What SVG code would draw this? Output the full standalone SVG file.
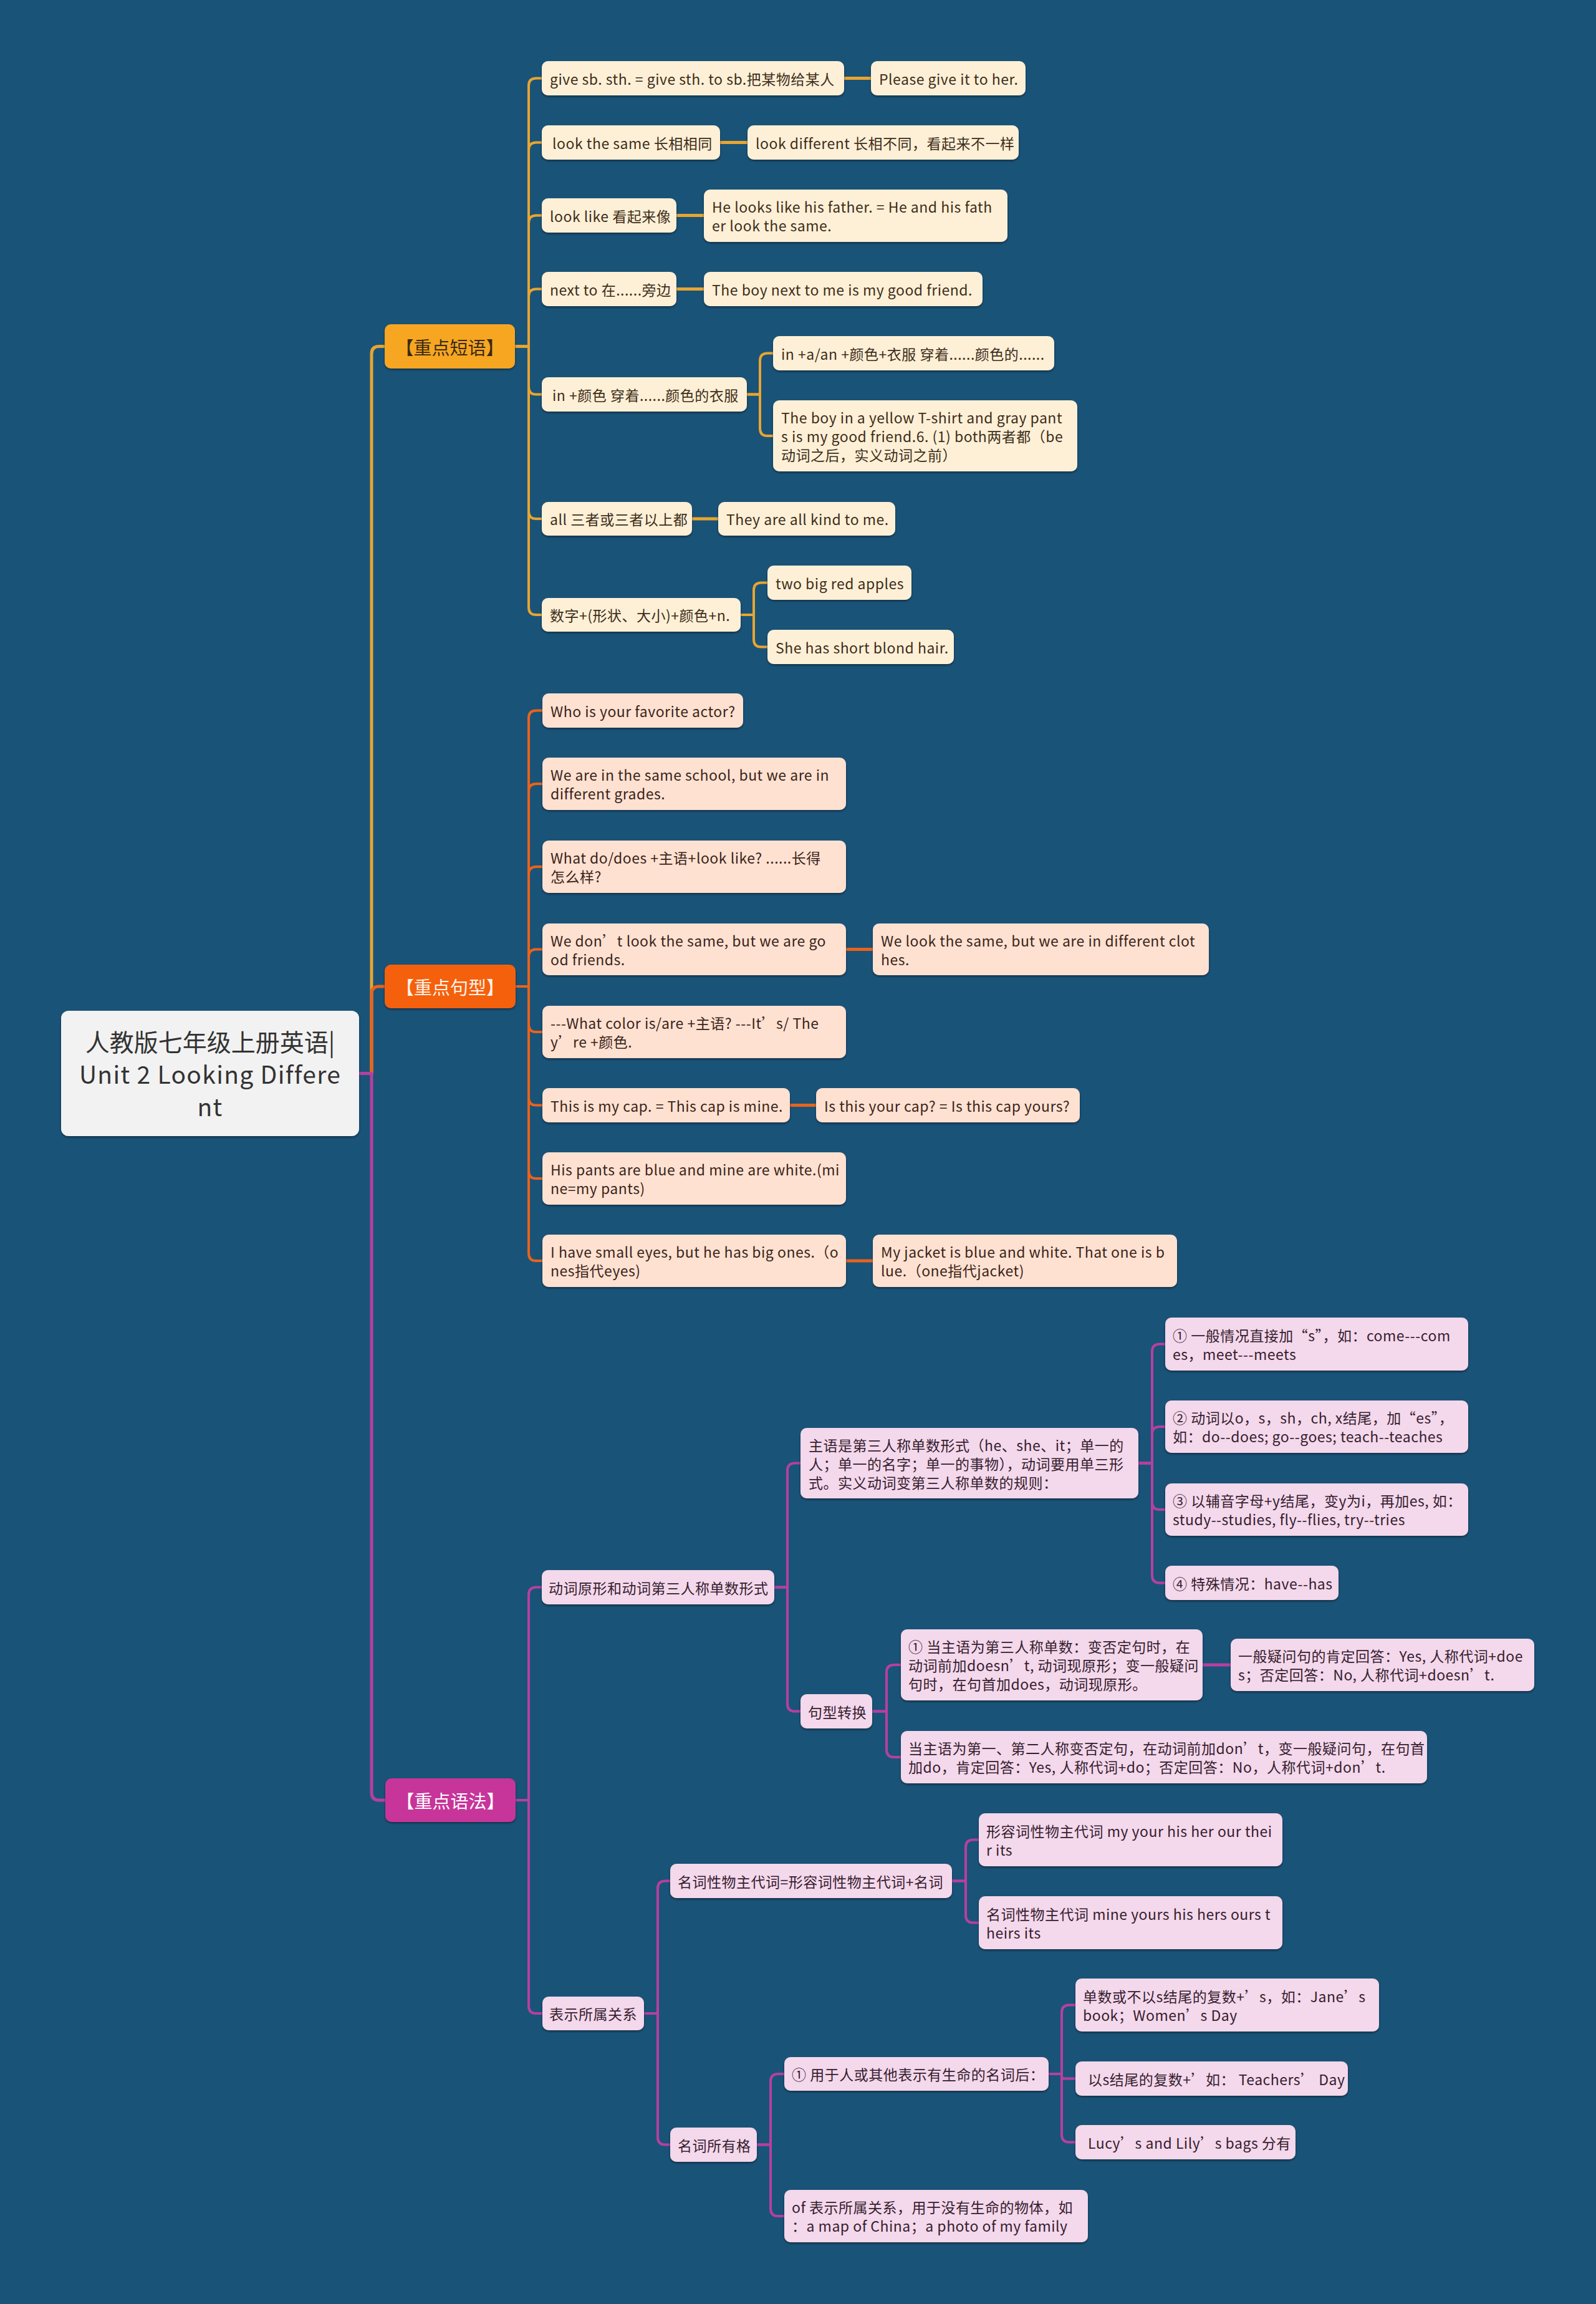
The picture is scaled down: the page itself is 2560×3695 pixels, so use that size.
<svg xmlns="http://www.w3.org/2000/svg" width="2560" height="3695" viewBox="0 0 2560 3695">
<defs>
<filter id="sh" x="-5%" y="-10%" width="110%" height="130%"><feDropShadow dx="0" dy="2" stdDeviation="1.5" flood-color="#0b2233" flood-opacity="0.75"/></filter>
<style>
text{font-family:"Noto Sans CJK SC","Noto Sans",sans-serif;dominant-baseline:central}
rect{filter:url(#sh)}
.t{font-size:23px;letter-spacing:0.5px}
.r1{fill:#FDF0D6}.r2{fill:#FEE1D1}.r3{fill:#F4D8EB}
.k1{fill:#3e2d1b}.k2{fill:#3b2419}.k3{fill:#35202f}
.c{fill:none;stroke-linecap:round;stroke-linejoin:round}
.c1{stroke:#E8A531}.c2{stroke:#E9631C}.c3{stroke:#B6409F}
.w4{stroke-width:4}.w5{stroke-width:5}
.bt{font-size:29px;text-anchor:middle}
.rt{font-size:39px;text-anchor:middle;fill:#333}
</style>
</defs>
<rect x="0" y="0" width="2560" height="3695" fill="#1A5378" style="filter:none"/>

<g id="connectors">
<path class="c c1 w5" d="M576 1721.5H596V567.5Q596 555.5 608 555.5H617"/>
<path class="c c2 w5" d="M576 1721.5H596V1594Q596 1582 608 1582H617"/>
<path class="c c3 w5" d="M576 1721.5H596V2875Q596 2887 608 2887H618"/>

<path class="c c1 w4" d="M826 555.5H848V137.5Q848 125.5 860 125.5H869"/>
<path class="c c1 w4" d="M826 555.5H848V240.5Q848 228.5 860 228.5H869"/>
<path class="c c1 w4" d="M826 555.5H848V357.5Q848 345.5 860 345.5H869"/>
<path class="c c1 w4" d="M826 555.5H848V475.5Q848 463.5 860 463.5H869"/>
<path class="c c1 w4" d="M826 555.5H848V620.5Q848 632.5 860 632.5H869"/>
<path class="c c1 w4" d="M826 555.5H848V820Q848 832 860 832H869"/>
<path class="c c1 w4" d="M826 555.5H848V974Q848 986 860 986H869"/>
<path class="c c1 w5" d="M1354 125.5H1397"/>
<path class="c c1 w5" d="M1155 228.5H1199"/>
<path class="c c1 w5" d="M1085 345.5H1129"/>
<path class="c c1 w5" d="M1085 463.5H1129"/>
<path class="c c1 w4" d="M1198 632.5H1219V578.5Q1219 566.5 1231 566.5H1240"/>
<path class="c c1 w4" d="M1198 632.5H1219V687Q1219 699 1231 699H1240"/>
<path class="c c1 w5" d="M1110 832H1152"/>
<path class="c c1 w4" d="M1188 986H1209V946.5Q1209 934.5 1221 934.5H1231"/>
<path class="c c1 w4" d="M1188 986H1209V1025.5Q1209 1037.5 1221 1037.5H1231"/>

<path class="c c2 w4" d="M827 1582H848V1151.5Q848 1139.5 860 1139.5H870"/>
<path class="c c2 w4" d="M827 1582H848V1269Q848 1257 860 1257H870"/>
<path class="c c2 w4" d="M827 1582H848V1402Q848 1390 860 1390H870"/>
<path class="c c2 w4" d="M827 1582H848V1534.5Q848 1522.5 860 1522.5H870"/>
<path class="c c2 w4" d="M827 1582H848V1643Q848 1655 860 1655H870"/>
<path class="c c2 w4" d="M827 1582H848V1760.5Q848 1772.5 860 1772.5H870"/>
<path class="c c2 w4" d="M827 1582H848V1878Q848 1890 860 1890H870"/>
<path class="c c2 w4" d="M827 1582H848V2010Q848 2022 860 2022H870"/>
<path class="c c2 w5" d="M1357 1522.5H1400"/>
<path class="c c2 w5" d="M1267 1772.5H1309"/>
<path class="c c2 w5" d="M1357 2022H1400"/>

<path class="c c3 w4" d="M827 2887H848V2557.5Q848 2545.5 860 2545.5H869"/>
<path class="c c3 w4" d="M827 2887H848V3217Q848 3229 860 3229H870"/>
<path class="c c3 w4" d="M1242 2545.5H1263V2358.5Q1263 2346.5 1275 2346.5H1284"/>
<path class="c c3 w4" d="M1242 2545.5H1263V2732.5Q1263 2744.5 1275 2744.5H1284"/>
<path class="c c3 w4" d="M1826 2346.5H1848V2167.5Q1848 2155.5 1860 2155.5H1869"/>
<path class="c c3 w4" d="M1826 2346.5H1848V2300Q1848 2288 1860 2288H1869"/>
<path class="c c3 w4" d="M1826 2346.5H1848V2409Q1848 2421 1860 2421H1869"/>
<path class="c c3 w4" d="M1826 2346.5H1848V2526.5Q1848 2538.5 1860 2538.5H1869"/>
<path class="c c3 w4" d="M1399 2744.5H1422V2682Q1422 2670 1434 2670H1445"/>
<path class="c c3 w4" d="M1399 2744.5H1422V2806Q1422 2818 1434 2818H1445"/>
<path class="c c3 w5" d="M1929 2670H1974"/>
<path class="c c3 w4" d="M1033 3229H1055V3028.5Q1055 3016.5 1067 3016.5H1075"/>
<path class="c c3 w4" d="M1033 3229H1055V3427.5Q1055 3439.5 1067 3439.5H1075"/>
<path class="c c3 w4" d="M1527 3016.5H1549V2962.5Q1549 2950.5 1561 2950.5H1570"/>
<path class="c c3 w4" d="M1527 3016.5H1549V3071.5Q1549 3083.5 1561 3083.5H1570"/>
<path class="c c3 w4" d="M1214 3439.5H1236V3338Q1236 3326 1248 3326H1258"/>
<path class="c c3 w4" d="M1214 3439.5H1236V3542Q1236 3554 1248 3554H1258"/>
<path class="c c3 w4" d="M1682 3326H1703V3227.5Q1703 3215.5 1715 3215.5H1725"/>
<path class="c c3 w4" d="M1682 3326H1703V3329.5Q1703 3333.5 1707 3333.5H1725"/>
<path class="c c3 w4" d="M1682 3326H1703V3423.5Q1703 3435.5 1715 3435.5H1725"/>
</g>

<g id="root"><rect x="98" y="1621" width="478" height="201" rx="12" fill="#F2F2F2"/>
<text class="rt" x="337" y="1669">人教版七年级上册英语|</text>
<text class="rt" x="337" y="1721" letter-spacing="1.3">Unit 2 Looking Differe</text>
<text class="rt" x="337" y="1773" letter-spacing="1.3">nt</text></g>

<g id="b1"><rect x="617" y="520" width="209" height="71" rx="10" fill="#F7A624"/><text class="bt" x="721.5" y="555.5" fill="#3a2a14">【重点短语】</text></g>
<g id="b2"><rect x="617" y="1547" width="210" height="70" rx="10" fill="#F5600F"/><text class="bt" x="722" y="1582" fill="#FFF3E8">【重点句型】</text></g>
<g id="b3"><rect x="618" y="2852" width="209" height="70" rx="10" fill="#C7359A"/><text class="bt" x="722.5" y="2887" fill="#FFFFFF">【重点语法】</text></g>

<g id="n1-1"><rect class="r1" x="869" y="98" width="485" height="55" rx="10"/><text class="t k1" x="882" y="125.5">give sb. sth. = give sth. to sb.把某物给某人</text></g>
<g id="n1-1a"><rect class="r1" x="1397" y="98" width="248" height="55" rx="10"/><text class="t k1" x="1410" y="125.5">Please give it to her.</text></g>
<g id="n1-2"><rect class="r1" x="869" y="201" width="286" height="55" rx="10"/><text class="t k1" x="886" y="228.5">look the same 长相相同</text></g>
<g id="n1-2a"><rect class="r1" x="1199" y="201" width="435" height="55" rx="10"/><text class="t k1" x="1212" y="228.5">look different 长相不同，看起来不一样</text></g>
<g id="n1-3"><rect class="r1" x="869" y="318" width="216" height="55" rx="10"/><text class="t k1" x="882" y="345.5">look like 看起来像</text></g>
<g id="n1-3a"><rect class="r1" x="1129" y="304" width="487" height="84" rx="10"/><text class="t k1" x="1142" y="331">He looks like his father. = He and his fath</text><text class="t k1" x="1142" y="361">er look the same.</text></g>
<g id="n1-4"><rect class="r1" x="869" y="436" width="216" height="55" rx="10"/><text class="t k1" x="882" y="463.5">next to 在......旁边</text></g>
<g id="n1-4a"><rect class="r1" x="1129" y="436" width="447" height="55" rx="10"/><text class="t k1" x="1142" y="463.5">The boy next to me is my good friend.</text></g>
<g id="n1-5"><rect class="r1" x="869" y="605" width="329" height="55" rx="10"/><text class="t k1" x="886" y="632.5">in +颜色 穿着......颜色的衣服</text></g>
<g id="n1-5a"><rect class="r1" x="1240" y="539" width="451" height="55" rx="10"/><text class="t k1" x="1253" y="566.5">in +a/an +颜色+衣服 穿着......颜色的......</text></g>
<g id="n1-5b"><rect class="r1" x="1240" y="642" width="488" height="114" rx="10"/><text class="t k1" x="1253" y="669">The boy in a yellow T-shirt and gray pant</text><text class="t k1" x="1253" y="699">s is my good friend.6. (1) both两者都（be</text><text class="t k1" x="1253" y="729">动词之后，实义动词之前）</text></g>
<g id="n1-6"><rect class="r1" x="869" y="805" width="241" height="54" rx="10"/><text class="t k1" x="882" y="832">all 三者或三者以上都</text></g>
<g id="n1-6a"><rect class="r1" x="1152" y="805" width="284" height="54" rx="10"/><text class="t k1" x="1165" y="832">They are all kind to me.</text></g>
<g id="n1-7"><rect class="r1" x="869" y="959" width="319" height="54" rx="10"/><text class="t k1" x="882" y="986">数字+(形状、大小)+颜色+n.</text></g>
<g id="n1-7a"><rect class="r1" x="1231" y="907" width="231" height="55" rx="10"/><text class="t k1" x="1244" y="934.5">two big red apples</text></g>
<g id="n1-7b"><rect class="r1" x="1231" y="1010" width="299" height="55" rx="10"/><text class="t k1" x="1244" y="1037.5">She has short blond hair.</text></g>

<g id="n2-1"><rect class="r2" x="870" y="1112" width="322" height="55" rx="10"/><text class="t k2" x="883" y="1139.5">Who is your favorite actor?</text></g>
<g id="n2-2"><rect class="r2" x="870" y="1215" width="487" height="84" rx="10"/><text class="t k2" x="883" y="1242">We are in the same school, but we are in</text><text class="t k2" x="883" y="1272">different grades.</text></g>
<g id="n2-3"><rect class="r2" x="870" y="1348" width="487" height="84" rx="10"/><text class="t k2" x="883" y="1375">What do/does +主语+look like? ......长得</text><text class="t k2" x="883" y="1405">怎么样?</text></g>
<g id="n2-4"><rect class="r2" x="870" y="1481" width="487" height="83" rx="10"/><text class="t k2" x="883" y="1507.5">We don’t look the same, but we are go</text><text class="t k2" x="883" y="1537.5">od friends.</text></g>
<g id="n2-4a"><rect class="r2" x="1400" y="1481" width="539" height="83" rx="10"/><text class="t k2" x="1413" y="1507.5">We look the same, but we are in different clot</text><text class="t k2" x="1413" y="1537.5">hes.</text></g>
<g id="n2-5"><rect class="r2" x="870" y="1613" width="487" height="84" rx="10"/><text class="t k2" x="883" y="1640">---What color is/are +主语? ---It’s/ The</text><text class="t k2" x="883" y="1670">y’re +颜色.</text></g>
<g id="n2-6"><rect class="r2" x="870" y="1745" width="397" height="55" rx="10"/><text class="t k2" x="883" y="1772.5">This is my cap. = This cap is mine.</text></g>
<g id="n2-6a"><rect class="r2" x="1309" y="1745" width="423" height="55" rx="10"/><text class="t k2" x="1322" y="1772.5">Is this your cap? = Is this cap yours?</text></g>
<g id="n2-7"><rect class="r2" x="870" y="1848" width="487" height="84" rx="10"/><text class="t k2" x="883" y="1875">His pants are blue and mine are white.(mi</text><text class="t k2" x="883" y="1905">ne=my pants)</text></g>
<g id="n2-8"><rect class="r2" x="870" y="1980" width="487" height="84" rx="10"/><text class="t k2" x="883" y="2007">I have small eyes, but he has big ones.（o</text><text class="t k2" x="883" y="2037">nes指代eyes)</text></g>
<g id="n2-8a"><rect class="r2" x="1400" y="1980" width="488" height="84" rx="10"/><text class="t k2" x="1413" y="2007">My jacket is blue and white. That one is b</text><text class="t k2" x="1413" y="2037">lue.（one指代jacket)</text></g>

<g id="n3-1"><rect class="r3" x="869" y="2518" width="373" height="55" rx="10"/><text class="t k3" x="880" y="2545.5">动词原形和动词第三人称单数形式</text></g>
<g id="n3-1-1"><rect class="r3" x="1284" y="2290" width="542" height="113" rx="10"/><text class="t k3" x="1297" y="2316.5">主语是第三人称单数形式（he、she、it；单一的</text><text class="t k3" x="1297" y="2346.5">人；单一的名字；单一的事物），动词要用单三形</text><text class="t k3" x="1297" y="2376.5">式。实义动词变第三人称单数的规则：</text></g>
<g id="n3-1-1-1"><rect class="r3" x="1869" y="2113" width="486" height="85" rx="10"/><text class="t k3" x="1881" y="2140.5">① 一般情况直接加“s”，如：come---com</text><text class="t k3" x="1881" y="2170.5">es，meet---meets</text></g>
<g id="n3-1-1-2"><rect class="r3" x="1869" y="2246" width="486" height="84" rx="10"/><text class="t k3" x="1881" y="2273">② 动词以o，s，sh，ch, x结尾，加“es”，</text><text class="t k3" x="1881" y="2303">如：do--does; go--goes; teach--teaches</text></g>
<g id="n3-1-1-3"><rect class="r3" x="1869" y="2379" width="486" height="84" rx="10"/><text class="t k3" x="1881" y="2406">③ 以辅音字母+y结尾，变y为i，再加es, 如：</text><text class="t k3" x="1881" y="2436">study--studies, fly--flies, try--tries</text></g>
<g id="n3-1-1-4"><rect class="r3" x="1869" y="2511" width="278" height="55" rx="10"/><text class="t k3" x="1881" y="2538.5">④ 特殊情况：have--has</text></g>
<g id="n3-1-2"><rect class="r3" x="1284" y="2717" width="115" height="55" rx="10"/><text class="t k3" x="1296" y="2744.5">句型转换</text></g>
<g id="n3-1-2-1"><rect class="r3" x="1445" y="2613" width="484" height="114" rx="10"/><text class="t k3" x="1457" y="2640">① 当主语为第三人称单数：变否定句时，在</text><text class="t k3" x="1457" y="2670">动词前加doesn’t, 动词现原形；变一般疑问</text><text class="t k3" x="1457" y="2700">句时，在句首加does，动词现原形。</text></g>
<g id="n3-1-2-1a"><rect class="r3" x="1974" y="2628" width="487" height="84" rx="10"/><text class="t k3" x="1986" y="2655">一般疑问句的肯定回答：Yes, 人称代词+doe</text><text class="t k3" x="1986" y="2685">s；否定回答：No, 人称代词+doesn’t.</text></g>
<g id="n3-1-2-2"><rect class="r3" x="1445" y="2776" width="844" height="84" rx="10"/><text class="t k3" x="1457" y="2803">当主语为第一、第二人称变否定句，在动词前加don’t，变一般疑问句，在句首</text><text class="t k3" x="1457" y="2833">加do，肯定回答：Yes, 人称代词+do；否定回答：No，人称代词+don’t.</text></g>
<g id="n3-2"><rect class="r3" x="870" y="3202" width="163" height="54" rx="10"/><text class="t k3" x="881" y="3229">表示所属关系</text></g>
<g id="n3-2-1"><rect class="r3" x="1075" y="2989" width="452" height="55" rx="10"/><text class="t k3" x="1087" y="3016.5">名词性物主代词=形容词性物主代词+名词</text></g>
<g id="n3-2-1-1"><rect class="r3" x="1570" y="2908" width="487" height="85" rx="10"/><text class="t k3" x="1582" y="2935.5">形容词性物主代词 my your his her our thei</text><text class="t k3" x="1582" y="2965.5">r its</text></g>
<g id="n3-2-1-2"><rect class="r3" x="1570" y="3041" width="487" height="85" rx="10"/><text class="t k3" x="1582" y="3068.5">名词性物主代词 mine yours his hers ours t</text><text class="t k3" x="1582" y="3098.5">heirs its</text></g>
<g id="n3-2-2"><rect class="r3" x="1075" y="3412" width="139" height="55" rx="10"/><text class="t k3" x="1087" y="3439.5">名词所有格</text></g>
<g id="n3-2-2-1"><rect class="r3" x="1258" y="3299" width="424" height="54" rx="10"/><text class="t k3" x="1270" y="3326">① 用于人或其他表示有生命的名词后：</text></g>
<g id="n3-2-2-1-1"><rect class="r3" x="1725" y="3173" width="487" height="85" rx="10"/><text class="t k3" x="1737" y="3200.5">单数或不以s结尾的复数+’s，如：Jane’s</text><text class="t k3" x="1737" y="3230.5">book；Women’s Day</text></g>
<g id="n3-2-2-1-2"><rect class="r3" x="1725" y="3306" width="437" height="55" rx="10"/><text class="t k3" x="1745" y="3333.5">以s结尾的复数+’如： Teachers’ Day</text></g>
<g id="n3-2-2-1-3"><rect class="r3" x="1725" y="3408" width="353" height="55" rx="10"/><text class="t k3" x="1745" y="3435.5">Lucy’s and Lily’s bags 分有</text></g>
<g id="n3-2-2-2"><rect class="r3" x="1258" y="3512" width="487" height="84" rx="10"/><text class="t k3" x="1270" y="3539">of 表示所属关系，用于没有生命的物体，如</text><text class="t k3" x="1270" y="3569">：a map of China；a photo of my family</text></g>
</svg>
